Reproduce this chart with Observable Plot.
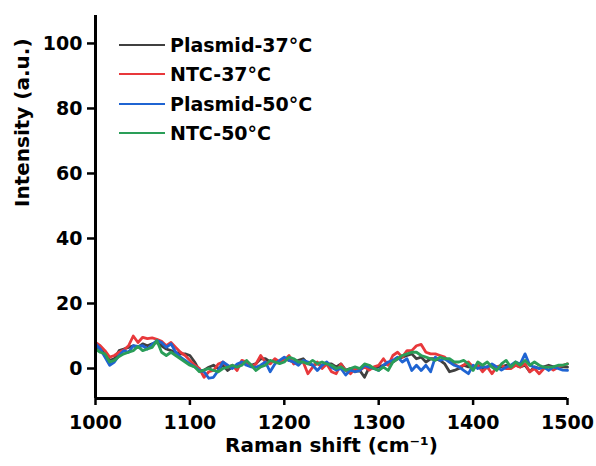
<!DOCTYPE html>
<html>
<head>
<meta charset="utf-8">
<script src="https://cdn.jsdelivr.net/npm/d3@7"></script>
<script src="https://cdn.jsdelivr.net/npm/@observablehq/plot@0.6"></script>
<style>
  html, body { margin: 0; padding: 0; background: #fff; }
  #wrap { position: relative; width: 596px; height: 466px; }
  #legend { position: absolute; left: 119px; top: 30px; font-family: "DejaVu Sans", sans-serif; font-weight: bold; font-size: 19px; color: #000; }
  .row { display: flex; align-items: center; height: 29.5px; }
  .sw { display: inline-block; width: 46px; height: 2.4px; margin-right: 5px; }
</style>
</head>
<body>
<div id="wrap"><div id="legend"></div></div>
<script>
const seriesNames = ["Plasmid-37°C", "NTC-37°C", "Plasmid-50°C", "NTC-50°C"];
const seriesColors = ["#404040", "#e8383b", "#1f64d2", "#2a9e58"];
const xTicks = [1000, 1100, 1200, 1300, 1400, 1500];
const yTicks = [0, 20, 40, 60, 80, 100];
const xDomain = [1000, 1500];
const yDomain = [-9.23, 108.6];

const shift = [
  1000,1005,1010,1015,1020,1025,1030,1035,1040,1045,
  1050,1055,1060,1065,1070,1075,1080,1085,1090,1095,
  1100,1105,1110,1115,1120,1125,1130,1135,1140,1145,
  1150,1155,1160,1165,1170,1175,1180,1185,1190,1195,
  1200,1205,1210,1215,1220,1225,1230,1235,1240,1245,
  1250,1255,1260,1265,1270,1275,1280,1285,1290,1295,
  1300,1305,1310,1315,1320,1325,1330,1335,1340,1345,
  1350,1355,1360,1365,1370,1375,1380,1385,1390,1395,
  1400,1405,1410,1415,1420,1425,1430,1435,1440,1445,
  1450,1455,1460,1465,1470,1475,1480,1485,1490,1495,
  1500
];

const plasmid37 = [
  7, 6, 5, 2.5, 3, 5.5, 6, 6.5, 7, 6.5,
  7.6, 7, 7.6, 8, 7, 6, 5.5, 5, 4.5, 4.5,
  4, 2, -0.6, -0.5, 0.4, 1, 0, 1, -0.6, 0.5,
  0.4, 1.5, 2, 1, 1.5, 3, 3, 2, 2.5, 2,
  3, 2.5, 2, 2.5, 3, 1.5, 1, 1.4, 1, 1.4,
  1.4, 0.5, 1.4, -0.5, 0, -1, -0.6, -2.7, 0.4, 0,
  0.5, 1, 1.5, 2, 3, 3.5, 4, 4.5, 3, 3.5,
  2, 3, 3, 2.5, 1.4, -1, -0.6, 0, 1, 0.5,
  0.4, 1, 0, 0.5, 1, 0, 0.5, 1, 0.5, 1,
  0.5, 1, -1, 0.5, 0, 0.5, 1, 0.5, 0.5, 0.5,
  0.4
];

const ntc37 = [
  8, 7, 5.5, 3.5, 4, 5, 5.7, 7, 10, 8,
  9.6, 9.2, 9.4, 9, 8.4, 7, 8, 6.5, 5, 4,
  2.5, 1, 0, -2.7, -1, -0.6, 1.4, 2, 0.4, 1,
  -0.6, 2.5, 2, 0.5, 1.4, 4, 2, 1.4, 3, 2,
  2.5, 4, 1.4, 2, 2, -1.6, 0.4, 2, 0, 1.4,
  -1, -1.6, 1.4, -0.6, -1.6, 0, -0.6, 0.5, -0.5, 0.5,
  1, 3, 1, 4, 5, 3.5, 5.5, 5.5, 7, 7.4,
  5, 4.5, 4.5, 4, 3.5, 2, 1.4, 0.4, 1, 2,
  0.4, 1, -1, 0.5, -1.6, 0.5, 1, 0, 0, 1,
  0.4, 1.5, -1, 0, -1.6, 0, 0.5, -0.5, 0.4, 1,
  1.4
];

const plasmid50 = [
  7.6, 6, 3.5, 1, 2, 4, 5.5, 5, 7, 6.8,
  7, 6, 7.4, 8.6, 8, 6.5, 7.6, 5, 3.5, 2.5,
  1.4, 0.5, -0.6, -1, -3, -2.7, -0.6, 2, 1, 0,
  1.4, 2, 1, 0.5, 0.4, 1, 2, -1, 1.4, 2.5,
  3.5, 2.5, 2, 1, 2.5, 2, 1, -0.6, 1, 2,
  0.4, -0.5, 0, -2, -0.5, -1, -0.6, 1, 0.4, 0,
  -0.6, 1, 2, 2.5, 3.5, 2, 3, -0.6, 1, -0.6,
  1, -1, 3.5, 2.5, 3, 2, 1, 0.5, -0.6, -1.6,
  1, 0, 0.5, 0.4, 1.4, 0.5, -0.5, 0.4, 1, 2,
  1.4, 4.5, 1, 0.4, 0, 0.4, -0.6, 0.5, 0, -0.5,
  -0.6
];

const ntc50 = [
  6, 5, 4.5, 2, 2.5, 3.7, 4.5, 5, 5.5, 6.8,
  5.5, 6, 6.5, 8.6, 5, 4, 5, 4, 3, 2,
  1, 0.5, -1, -0.5, 0, -0.6, -1, 0, 0.4, 1,
  0.4, 1, 2.5, 1, -0.6, 0.5, 1, 2.5, 2, 1.5,
  2, 3.5, 3, 2, 2, 1.4, 2.5, 1.5, 2, 1.4,
  1, 0, 0.5, -0.6, 0, 0.5, 0, 1.4, 1, 0,
  -0.6, 0.4, -0.6, 2, 3, 4, 4.5, 5, 5, 4,
  3.5, 3, 2.5, 3.5, 3, 3, 2, 2, 2.5, 1.4,
  -0.6, 2, 1, 2, 0.4, -0.6, 1.4, 2.5, 0.4, 2,
  1, 2.5, 1, 2, 1, 0.4, 0.4, 0.5, 1, 1,
  1.4
];

const allValues = [plasmid37, ntc37, plasmid50, ntc50];
const table = allValues.map((vals, i) =>
  shift.map((s, j) => ({ shift: s, value: vals[j], series: seriesNames[i] }))
);

const font = "DejaVu Sans, sans-serif";

const chart = Plot.plot({
  width: 596,
  height: 466,
  marginLeft: 95,
  marginRight: 29,
  marginTop: 15,
  marginBottom: 68,
  style: { fontFamily: font, fontWeight: "bold", fontSize: "19px", background: "#fff", color: "#000", overflow: "visible" },
  x: { domain: xDomain, ticks: xTicks },
  y: { domain: yDomain, ticks: yTicks },
  marks: [
    ...table.map((rows, i) => Plot.line(rows, {
      x: "shift", y: "value", stroke: seriesColors[i], strokeWidth: 2.8,
      strokeLinejoin: "round", strokeLinecap: "round"
    })),
    Plot.axisX({ ticks: xTicks, tickSize: 7, tickPadding: 10, strokeWidth: 2.5, label: null, fontSize: 19, fontWeight: "bold", tickFormat: d => String(d) }),
    Plot.axisY({ ticks: yTicks, tickSize: 8, tickPadding: 5, strokeWidth: 2.5, label: null, fontSize: 19, fontWeight: "bold" }),
    Plot.ruleX([xDomain[0]], { stroke: "#000", strokeWidth: 3 }),
    Plot.ruleY([yDomain[0]], { stroke: "#000", strokeWidth: 3 }),
    Plot.text(["Intensity (a.u.)"], { text: d => d, frameAnchor: "left", dx: -73, rotate: -90, fontSize: 20, fontWeight: "bold", fill: "#000" }),
    Plot.text(["Raman shift (cm⁻¹)"], { text: d => d, frameAnchor: "bottom", dy: 53, fontSize: 20, fontWeight: "bold", fill: "#000" })
  ]
});

const wrap = document.getElementById("wrap");
wrap.insertBefore(chart, wrap.firstChild);

const legend = document.getElementById("legend");
seriesNames.forEach((name, i) => {
  const row = document.createElement("div");
  row.className = "row";
  const sw = document.createElement("span");
  sw.className = "sw";
  sw.style.background = seriesColors[i];
  const label = document.createElement("span");
  label.textContent = name;
  row.appendChild(sw);
  row.appendChild(label);
  legend.appendChild(row);
});
</script>
</body>
</html>
